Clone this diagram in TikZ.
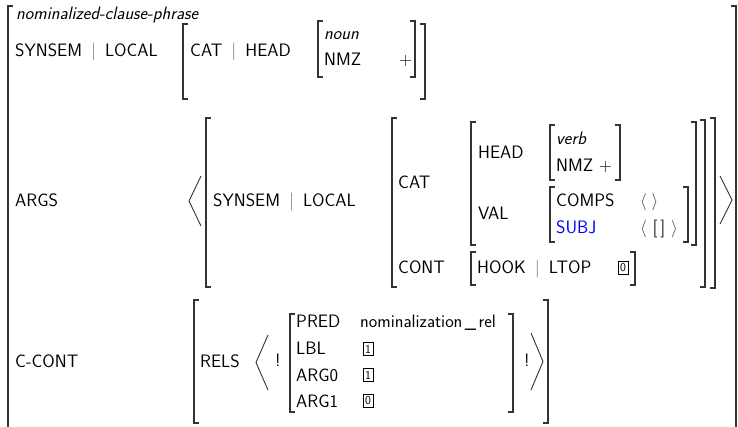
\documentclass[tikz,border=0pt]{standalone}
\usepackage{tikz}
\usepackage{xcolor}

\newcommand{\avmfont}{\fontsize{18}{22}\selectfont\sffamily}
\newcommand{\pth}{\hspace{0.5em}{\color{black!55}|}\hspace{0.5em}}
\newcommand{\avmL}[3]{\draw[brak] (#1+5,#2) -- (#1,#2) -- (#1,#3) -- (#1+5,#3);}
\newcommand{\avmR}[3]{\draw[brak] (#1-5,#2) -- (#1,#2) -- (#1,#3) -- (#1-5,#3);}
\newcommand{\avmLangle}[3]{\draw[brak,line width=0.9pt] (#1+12,#2) -- (#1,{(#2+#3)/2}) -- (#1+12,#3);}
\newcommand{\avmRangle}[3]{\draw[brak,line width=0.9pt] (#1-12,#2) -- (#1,{(#2+#3)/2}) -- (#1-12,#3);}

\tikzset{
  lbl/.style={anchor=base west, inner sep=0pt, font=\avmfont},
  typ/.style={lbl, font=\avmfont\itshape},
  tagbox/.style={draw, line width=0.5pt, minimum width=10pt, minimum height=13pt,
    inner sep=0pt, font=\fontsize{12}{12}\selectfont\sffamily},
  brak/.style={line width=1.1pt, black!80},
}

\begin{document}
\begin{tikzpicture}[x=1pt,y=-1pt]
    \useasboundingbox (0,0) rectangle (738,426);
    % outer matrix
    \avmL{8}{6}{440}
    \avmR{736}{6}{440}
    \node[typ] (type) at (16,19) {nominalized-clause-phrase};

    % SYNSEM | LOCAL
    \node[lbl] (synsem) at (15,56) {SYNSEM\pth LOCAL};
    \avmL{183}{24}{99}
    \node[lbl] (cathead) at (190,56) {CAT\pth HEAD};
    \avmL{318}{21}{77}
    \node[typ] (noun) at (324,39) {noun};
    \node[lbl] (nmz) at (324,65) {NMZ};
    \node[lbl] (plus) at (399,65) {+};
    \avmR{415}{21}{77}
    \avmR{425}{24}{99}

    % ARGS
    \node[lbl] (args) at (15,206) {ARGS};
    \avmLangle{189}{176}{226}
    \avmL{206}{118}{287}
    \node[lbl] (argsynsem) at (213,206) {SYNSEM\pth LOCAL};
    \avmL{392}{118}{287}
    \node[lbl] (cat) at (398,188) {CAT};
    \avmL{471}{122}{245}
    \node[lbl] (head) at (478,158) {HEAD};
    \avmL{550}{125}{180}
    \node[typ] (verb) at (556,144) {verb};
    \node[lbl] (argnmz) at (556,171) {NMZ +};
    \avmR{620}{125}{180}
    \node[lbl] (val) at (478,219) {VAL};
    \avmL{550}{187}{242}
    \node[lbl] (comps) at (556,206) {COMPS};
    \node[lbl, text=black!75] (compsval) at (640,206) {$\langle\;\rangle$};
    \node[lbl, text=blue] (subj) at (556,233) {SUBJ};
    \node[lbl, text=black!75] (subjval) at (640,233) {$\langle$ [\,] $\rangle$};
    \avmR{688}{187}{242}
    \avmR{696}{122}{245}
    \node[lbl] (cont) at (398,273) {CONT};
    \avmL{471}{252}{285}
    \node[lbl] (hook) at (477,273) {HOOK\pth LTOP};
    \node[tagbox] (ltoptag) at (623,268) {0};
    \avmR{635}{252}{285}
    \avmR{705}{120}{287}
    \avmR{715}{118}{288}
    \avmRangle{732}{176}{224}

    % C-CONT
    \node[lbl] (ccont) at (15,367) {C-CONT};
    \avmL{194}{300}{423}
    \node[lbl] (rels) at (200,367) {RELS};
    \avmLangle{256}{335}{390}
    \node[lbl] (bangl) at (275,366) {!};
    \avmL{290}{314}{412}
    \node[lbl] (pred) at (296,327) {PRED};
    \node[lbl] (lbl) at (296,354) {LBL};
    \node[lbl] (argzero) at (296,381) {ARG0};
    \node[lbl] (argone) at (296,407) {ARG1};
    \node[lbl] (predval) at (360,327) {nominalization\hspace{2.5pt}\_\hspace{2.5pt}rel};
    \node[tagbox] (lbltag) at (368,349) {1};
    \node[tagbox] (argzerotag) at (368,375) {1};
    \node[tagbox] (argonetag) at (368,401) {0};
    \avmR{513}{314}{412}
    \node[lbl] (bangr) at (524,366) {!};
    \avmRangle{543}{333}{390}
    \avmR{548}{300}{423}
\end{tikzpicture}
\end{document}
